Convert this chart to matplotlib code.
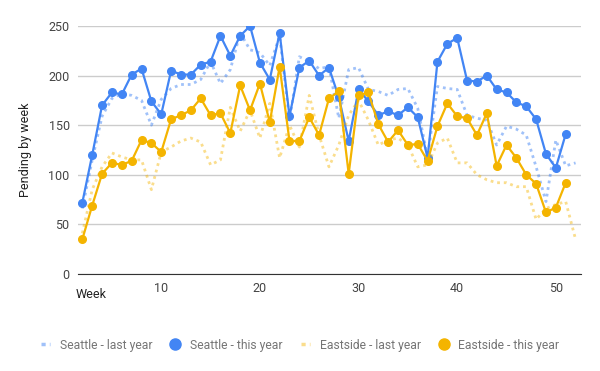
import matplotlib.pyplot as plt
from matplotlib.lines import Line2D

plt.rcParams["font.family"] = ["Roboto", "DejaVu Sans"]

# weeks 2..52 for last year, 2..51 for this year
weeks_last = list(range(2, 53))
weeks_this = list(range(2, 52))

seattle_last = [66, 115, 159, 177, 182, 180, 175, 150, 176, 187,
                191, 191, 196, 214, 192, 206, 243, 226, 223, 210,
                240, 155, 219, 214, 207, 209, 157, 206, 208, 186,
                184, 180, 186, 187, 167, 118, 189, 187, 186, 160,
                157, 155, 130, 149, 146, 140, 108, 73, 135, 109,
                112]
seattle_this = [72, 120, 170, 183, 181, 201, 207, 174, 161, 205,
                201, 201, 211, 214, 240, 220, 240, 250, 213, 196,
                243, 159, 208, 215, 200, 208, 178, 134, 186, 174,
                160, 164, 160, 168, 158, 117, 214, 232, 238, 195,
                194, 200, 186, 183, 173, 169, 156, 121, 107, 141]
eastside_last = [41, 85, 108, 122, 118, 115, 115, 85, 123, 128,
                 134, 137, 133, 110, 115, 168, 144, 165, 137, 172,
                 117, 150, 128, 180, 140, 108, 130, 160, 175, 155,
                 130, 135, 137, 130, 108, 110, 132, 137, 112, 112,
                 100, 95, 92, 92, 88, 88, 55, 66, 70, 73,
                 35]
eastside_this = [35, 69, 101, 112, 110, 114, 135, 132, 123, 156,
                 160, 165, 177, 160, 162, 142, 190, 165, 192, 153,
                 209, 134, 134, 158, 140, 177, 184, 101, 180, 183,
                 151, 133, 145, 130, 131, 114, 149, 172, 159, 157,
                 140, 162, 109, 130, 117, 100, 91, 62, 67, 92]

BLUE = "#4285F4"
ORANGE = "#F4B400"
dots = (0, (1, 1.4))

fig = plt.figure(figsize=(6, 3.71), dpi=100)
ax = fig.add_axes([0.13, 0.2615, 0.838, 0.6685])

ax.plot(weeks_last, seattle_last, color=BLUE, alpha=0.5, lw=2, ls=dots)
ax.plot(weeks_this, seattle_this, color=BLUE, lw=1.6, marker="o", ms=5.5)
ax.plot(weeks_last, eastside_last, color=ORANGE, alpha=0.45, lw=2, ls=dots)
ax.plot(weeks_this, eastside_this, color=ORANGE, lw=1.6, marker="o", ms=5.5)

ax.set_xlim(1.56, 52.53)
ax.set_ylim(0, 250)
ax.set_yticks([0, 50, 100, 150, 200, 250])
ax.set_xticks([10, 20, 30, 40, 50])
ax.grid(axis="y", color="#cccccc", lw=1)
ax.set_axisbelow(True)
for side in ["top", "right", "left"]:
    ax.spines[side].set_visible(False)
ax.spines["bottom"].set_color("#333333")
ax.tick_params(length=0, labelsize=9, labelcolor="#444444", pad=6)
ax.set_ylabel("Pending by week", fontsize=9, color="#222222", labelpad=12)

fig.text(76 / 600, 1 - 295 / 371, "Week", fontsize=9, color="#222222",
         ha="left", va="center")

handles = [
    Line2D([], [], color=BLUE, alpha=0.5, lw=2.5, ls=(0, (1.2, 1.2))),
    Line2D([], [], color=BLUE, ls="none", marker="o", ms=8),
    Line2D([], [], color=ORANGE, alpha=0.45, lw=2.5, ls=(0, (1.2, 1.2))),
    Line2D([], [], color=ORANGE, ls="none", marker="o", ms=8),
]
labels = ["Seattle - last year", "Seattle - this year",
          "Eastside - last year", "Eastside - this year"]
fig.legend(handles, labels, loc="center", bbox_to_anchor=(0.5, 1 - 345 / 371),
           ncol=4, frameon=False, fontsize=8.7, labelcolor="#757575",
           handlelength=0.8, handletextpad=0.8, columnspacing=1.5)

fig.savefig("out.png", dpi=100)
